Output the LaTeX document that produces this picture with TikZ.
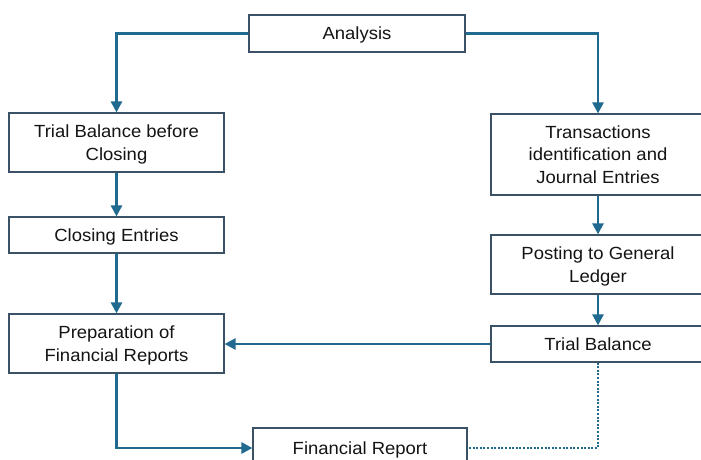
\documentclass[tikz,border=0pt]{standalone}
\usepackage{fontspec}
\setmainfont{Liberation Sans}[FakeStretch=1.05]
\usetikzlibrary{arrows.meta}
\definecolor{linec}{HTML}{1F6A8E}
\definecolor{boxc}{HTML}{3A5166}
\begin{document}
\begin{tikzpicture}[x=1pt,y=-1pt,
  box/.style={draw=boxc, line width=1.2pt, fill=white, align=center,
    font=\fontsize{17.6}{22.5}\selectfont, inner sep=0pt, text depth=0pt, text=black!92},
  conn/.style={draw=linec, line width=2.6pt, -{Triangle[length=11pt,width=11pt]}},
  dotconn/.style={draw=linec, line width=2.4pt, dash pattern=on 2pt off 1.6pt}]
\useasboundingbox (0,0) rectangle (701,460);
\node[box, minimum width=216pt, minimum height=37pt] (ana) at (357,33.5) {Analysis};
\node[box, minimum width=215pt, minimum height=59pt] (tbc) at (116.5,142.5) {Trial Balance before\\Closing};
\node[box, minimum width=215pt, minimum height=36pt] (clo) at (116.5,235) {Closing Entries};
\node[box, minimum width=215pt, minimum height=59pt] (prep) at (116.5,343.5) {Preparation of\\Financial Reports};
\node[box, minimum width=214pt, minimum height=81pt] (tra) at (598,154.5) {Transactions\\identification and\\Journal Entries};
\node[box, minimum width=214pt, minimum height=59pt] (post) at (598,264.5) {Posting to General\\Ledger};
\node[box, minimum width=214pt, minimum height=36pt] (tb) at (598,344) {Trial Balance};
\node[box, minimum width=214pt, minimum height=40pt] (fr) at (360,448) {Financial Report};
\draw[conn] (ana.west) -| (tbc.north);
\draw[conn] (ana.east) -| (tra.north);
\draw[conn] (tbc) -- (clo);
\draw[conn] (clo) -- (prep);
\draw[conn] (tra) -- (post);
\draw[conn] (post) -- (tb);
\draw[conn] (tb.west) -- (tb.west -| prep.east);
\draw[conn] (prep.south) |- (fr.west);
\draw[dotconn] (tb.south) |- (fr.east);
\end{tikzpicture}
\end{document}
